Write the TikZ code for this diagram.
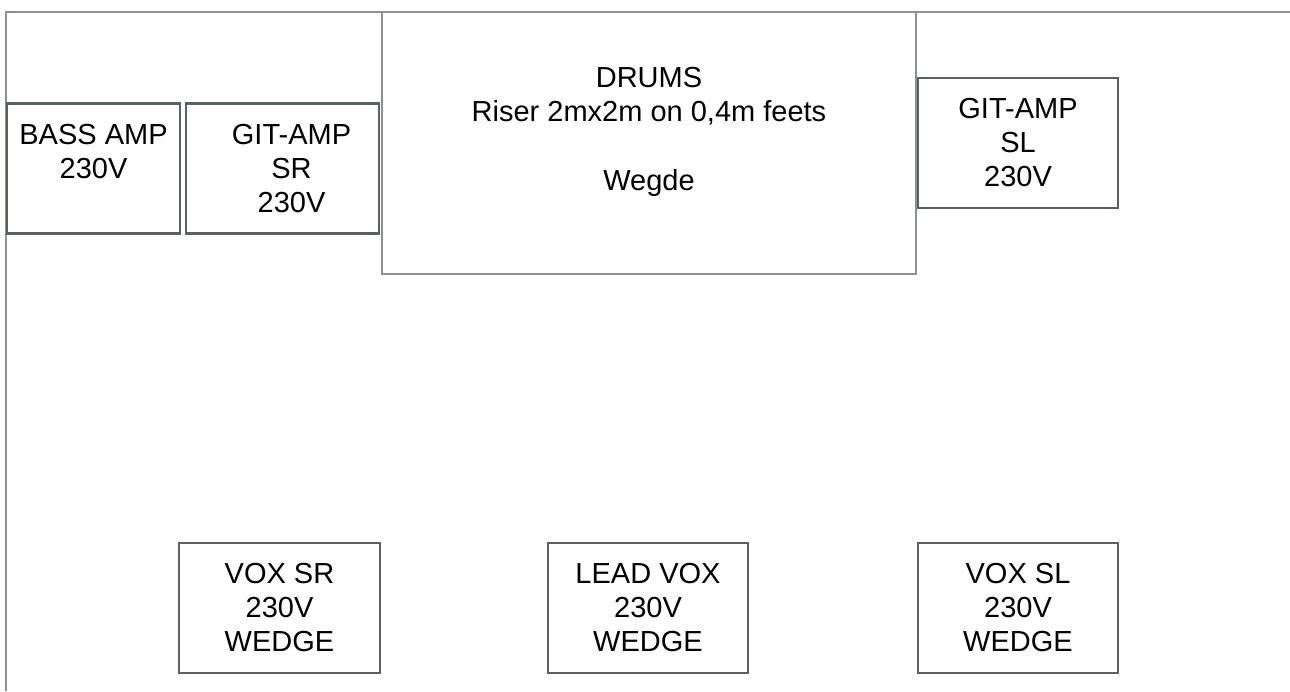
\documentclass[tikz,border=0pt]{standalone}
\usepackage{fontspec}
\setmainfont{Liberation Sans}
\usetikzlibrary{positioning}
\definecolor{framegray}{HTML}{8C9095}
\definecolor{boxgray}{HTML}{5C6066}

\begin{document}
\begin{tikzpicture}[x=0.5pt,y=-0.5pt,
    every node/.style={font=\fontsize{14.5}{17}\selectfont,inner sep=0pt},
    gear/.style={draw=boxgray,line width=1.2pt,align=center,minimum height=65pt},
    riser/.style={draw=framegray,line width=1pt,minimum width=267pt,minimum height=131pt}
]
\useasboundingbox (0,0) rectangle (1290,691);
% stage outline
\draw[framegray,line width=1pt] (6,691) -- (6,12) -- (1290,12);

% back line: amps and drum riser
\node[riser] (drums) at (649,143) {};
\node[align=center,below=28pt of drums.north] (drumstxt) {DRUMS\\Riser 2mx2m on 0,4m feets\\[17.5pt]Wegde};
\node[gear,minimum width=86.5pt] (bass)  at (93.5,168.5) {BASS AMP\\230V\\\mbox{}};
\node[gear,minimum width=96.5pt] (gitsr) at (282.5,168.5) {\hspace*{9pt}GIT-AMP\\\hspace*{9pt}SR\\\hspace*{9pt}230V};
\node[gear,minimum width=100pt]  (gitsl) at (1018,143) {GIT-AMP\\SL\\230V};

% front line: vocal wedges
\node[gear,minimum width=100.5pt] (voxsr) at (279.5,608) {VOX SR\\230V\\WEDGE};
\node[gear,minimum width=100pt]   (lead)  at (648,608)   {LEAD VOX\\230V\\WEDGE};
\node[gear,minimum width=100pt]   (voxsl) at (1018,608)  {VOX SL\\230V\\WEDGE};
\end{tikzpicture}
\end{document}
